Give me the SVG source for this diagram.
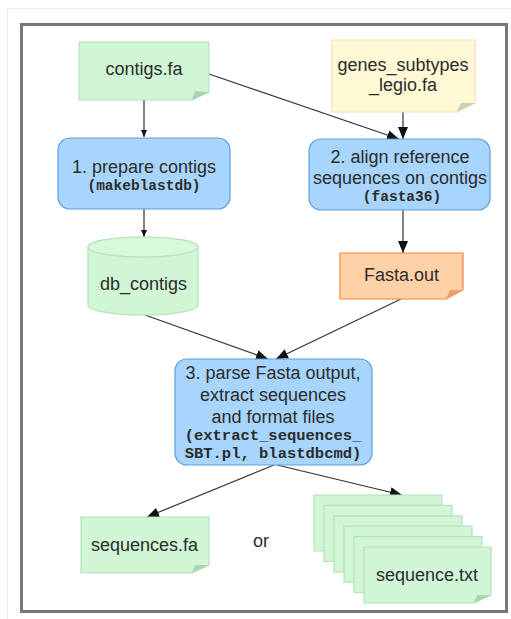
<svg xmlns="http://www.w3.org/2000/svg" width="511" height="619" viewBox="0 0 511 619">
  <style>
    .sans { font-family: "Liberation Sans", Arial, sans-serif; font-size: 18px; fill: #2b2b2b; text-anchor: middle; }
    .mono { font-family: "Liberation Mono", "Courier New", monospace; font-weight: bold; font-size: 14.5px; fill: #2b2b2b; text-anchor: middle; }
    .file { fill: #d1f6d6; stroke: #b4e2bb; stroke-width: 1.2; }
    .fold { fill: #a9d6b0; }
    .step { fill: #a8d5fb; stroke: #5e9fdc; stroke-width: 1.2; }
    .edge { stroke: #333; stroke-width: 1.2; fill: none; }
  </style>
  <defs>
    <marker id="arrow" markerUnits="userSpaceOnUse" markerWidth="13" markerHeight="10" refX="12" refY="5" orient="auto">
      <path d="M0,0 L12,5 L0,10 z" fill="#111"/>
    </marker>
    <marker id="arrowSmall" markerUnits="userSpaceOnUse" markerWidth="8" markerHeight="7" refX="7" refY="3" orient="auto">
      <path d="M0,0 L7,3 L0,6 z" fill="#111"/>
    </marker>
  </defs>

  <!-- page background and frame -->
  <rect x="0" y="0" width="511" height="619" fill="#fff"/>
  <rect x="7.5" y="8.5" width="520" height="630" fill="none" stroke="#ececec" stroke-width="1"/>
  <rect x="21.5" y="24.5" width="485" height="587" fill="#fff" stroke="#777" stroke-width="3"/>

  <!-- connectors -->
  <g id="edges">
    <line class="edge" x1="144" y1="100" x2="144" y2="137" marker-end="url(#arrowSmall)"/>
    <line class="edge" x1="209" y1="74" x2="399" y2="139" marker-end="url(#arrow)"/>
    <line class="edge" x1="403" y1="112" x2="403" y2="139" marker-end="url(#arrow)"/>
    <line class="edge" x1="144" y1="209" x2="144" y2="237" marker-end="url(#arrowSmall)"/>
    <line class="edge" x1="403" y1="210" x2="403" y2="253" marker-end="url(#arrow)"/>
    <line class="edge" x1="145" y1="315" x2="268" y2="359" marker-end="url(#arrow)"/>
    <line class="edge" x1="401" y1="299" x2="276" y2="359" marker-end="url(#arrow)"/>
    <line class="edge" x1="274" y1="465" x2="147" y2="517" marker-end="url(#arrow)"/>
    <line class="edge" x1="277" y1="465" x2="402" y2="495" marker-end="url(#arrow)"/>
  </g>

  <!-- input contigs -->
  <g id="contigs_fa">
    <path class="file" d="M79,42 H209 V92 L192,100 H79 Z"/>
    <path class="fold" d="M192,100 L195,91 L209,92 Z"/>
    <text class="sans" x="144" y="75">contigs.fa</text>
  </g>

  <!-- reference gene sequences -->
  <g id="genes_subtypes_legio_fa">
    <path d="M332,40 H475 V103 L457,112 H332 Z" fill="#fff9d6" stroke="#f9dcae" stroke-width="1.2"/>
    <path d="M457,112 L461,103 L475,103 Z" fill="#c9d2b0"/>
    <text class="sans" x="403" y="71">genes_subtypes</text>
    <text class="sans" x="403" y="91">_legio.fa</text>
  </g>

  <!-- step 1 -->
  <g id="step1">
    <rect class="step" x="58" y="138" width="172" height="71" rx="12"/>
    <text class="sans" x="144" y="173">1. prepare contigs</text>
    <text class="mono" x="144" y="190">(makeblastdb)</text>
  </g>

  <!-- step 2 -->
  <g id="step2">
    <rect class="step" x="309" y="139" width="181" height="71" rx="12"/>
    <text class="sans" x="400" y="163">2. align reference</text>
    <text class="sans" x="400" y="184">sequences on contigs</text>
    <text class="mono" x="402" y="201">(fasta36)</text>
  </g>

  <!-- BLAST database -->
  <g id="db_contigs">
    <path class="file" d="M88,247 A55,10 0 0 1 198,247 V305 A55,10 0 0 1 88,305 Z"/>
    <ellipse cx="143" cy="247" rx="55" ry="10" fill="#d8f8dc" stroke="#b4e2bb" stroke-width="1.2"/>
    <text class="sans" x="143.5" y="290">db_contigs</text>
  </g>

  <!-- alignment output -->
  <g id="fasta_out">
    <path d="M340,253 H463 V290 L446,299 H340 Z" fill="#ffd1a6" stroke="#ff8040" stroke-width="1.2"/>
    <path d="M446,299 L450,290 L463,290 Z" fill="#f0a070"/>
    <text class="sans" x="401.5" y="281">Fasta.out</text>
  </g>

  <!-- step 3 -->
  <g id="step3">
    <rect class="step" x="175" y="359" width="197" height="106" rx="12"/>
    <text class="sans" x="273" y="379">3. parse Fasta output,</text>
    <text class="sans" x="273" y="401">extract sequences</text>
    <text class="sans" x="273" y="423">and format files</text>
    <text class="mono" x="273" y="440" style="font-size:15.5px">(extract_sequences_</text>
    <text class="mono" x="273" y="458" style="font-size:15.5px">SBT.pl, blastdbcmd)</text>
  </g>

  <!-- output: one multi-fasta file -->
  <g id="sequences_fa">
    <path class="file" d="M81,517 H209 V565 L192,573 H81 Z"/>
    <path class="fold" d="M192,573 L195,565 L209,565 Z"/>
    <text class="sans" x="144.5" y="551">sequences.fa</text>
  </g>

  <text id="or" class="sans" x="261" y="547">or</text>

  <!-- output: one text file per sequence -->
  <g id="sequence_txt">
    <path class="file" d="M314,495 H442 V543 L425,551 H314 Z"/>
    <path class="file" d="M324,505.4 H452 V553.4 L435,561.4 H324 Z"/>
    <path class="file" d="M334,515.8 H462 V563.8 L445,571.8 H334 Z"/>
    <path class="file" d="M344,526.2 H472 V574.2 L455,582.2 H344 Z"/>
    <path class="file" d="M354,536.6 H482 V584.6 L465,592.6 H354 Z"/>
    <path class="file" d="M364,547 H491 V595 L474,603 H364 Z"/>
    <path class="fold" d="M474,603 L477,595 L491,595 Z"/>
    <text class="sans" x="427" y="581">sequence.txt</text>
  </g>
</svg>
